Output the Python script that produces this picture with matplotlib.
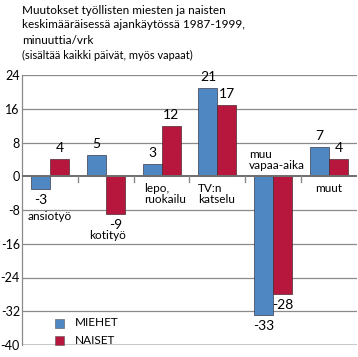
import matplotlib
matplotlib.use("Agg")
import matplotlib.pyplot as plt
from matplotlib.patches import Rectangle

categories = ["ansiotyö", "kotityö", "lepo,\nruokailu", "TV:n\nkatselu", "muu\nvapaa-aika", "muut"]
miehet = [-3, 5, 3, 21, -33, 7]
naiset = [4, -9, 12, 17, -28, 4]
yticks = [24, 16, 8, 0, -8, -16, -24, -32, -40]
series_names = ["MIEHET", "NAISET"]
title_lines = ["Muutokset työllisten miesten ja naisten",
               "keskimääräisessä ajankäytössä 1987-1999,",
               "minuuttia/vrk"]
subtitle = "(sisältää kaikki päivät, myös vapaat)"

BLUE = "#4F87C2"
RED = "#B8173D"
FONT = "Lato"

fig = plt.figure(figsize=(3.58, 3.57), dpi=100)
ax = fig.add_axes([22/358, 1-345/357, 335/358, 270/357])
ax.set_xlim(-0.5, 5.5)
ax.set_ylim(-40, 24)

for v in yticks:
    if v == 0 or v == -40:
        continue
    ax.axhline(v, color="#8a8a8a", lw=0.9, zorder=1)
ax.axhline(-40, color="#c8c8c8", lw=2.2, zorder=1)

w = 0.34
x = list(range(len(categories)))
ax.bar([i - w/2 for i in x], miehet, width=w, color=BLUE, edgecolor="#3a3a4a", lw=0.5, zorder=3)
ax.bar([i + w/2 for i in x], naiset, width=w, color=RED, edgecolor="#4a2a30", lw=0.5, zorder=3)
ax.axhline(0, color="#6e6e6e", lw=1.4, zorder=4)

# category boundary ticks
for b in [0.5, 1.5, 2.5, 3.5, 4.5]:
    ax.plot([b, b], [0, -1.4], color="#8a8a8a", lw=1.0, zorder=4, clip_on=False)

for s in ["top", "right", "bottom"]:
    ax.spines[s].set_visible(False)
ax.spines["left"].set_color("#8a8a8a")
ax.spines["left"].set_linewidth(0.9)
ax.set_xticks([])
ax.set_yticks(yticks)
ax.set_yticklabels([str(v) for v in yticks], fontsize=9, family=FONT)
ax.tick_params(axis="y", length=0, pad=1.5)

# value labels
def vlabel(xp, v):
    off = 2.6
    y = v + off if v >= 0 else v - off
    ax.text(xp, y, str(v), ha="center", va="center", fontsize=10, family=FONT, zorder=5)

for i in x:
    vlabel(i - w/2, miehet[i])
    vlabel(i + w/2, naiset[i])

# category labels
lab_kw = dict(fontsize=8.5, family=FONT, zorder=5, linespacing=1.0)
ax.text(0, -9.6, categories[0], ha="center", va="center", **lab_kw)
ax.text(1.04, -14.0, categories[1], ha="center", va="center", **lab_kw)
ax.text(1.69, -4.3, categories[2], ha="left", va="center", **lab_kw)
ax.text(2.65, -4.3, categories[3], ha="left", va="center", **lab_kw)
ax.text(3.57, 3.9, categories[4], ha="left", va="center", **lab_kw)
ax.text(5.0, -2.9, categories[5], ha="center", va="center", **lab_kw)

# legend
for j, (name, col) in enumerate(zip(series_names, [BLUE, RED])):
    yc = 1 - (323 + 17*j)/357
    fig.patches.append(Rectangle((55/358, yc - 4.5/357), 9/358, 9/357,
                                 transform=fig.transFigure, facecolor=col,
                                 edgecolor="#555555", lw=0.4))
    fig.text(75/358, yc, name, ha="left", va="center", fontsize=8.5, family=FONT)

# title
for k, line in enumerate(title_lines):
    fig.text(22/358, 1 - (10 + 15*k)/357, line, ha="left", va="center", fontsize=8.5, family=FONT)
fig.text(22/358, 1 - 55/357, subtitle, ha="left", va="center", fontsize=7.9, family=FONT)

fig.savefig("out.png", dpi=100)
